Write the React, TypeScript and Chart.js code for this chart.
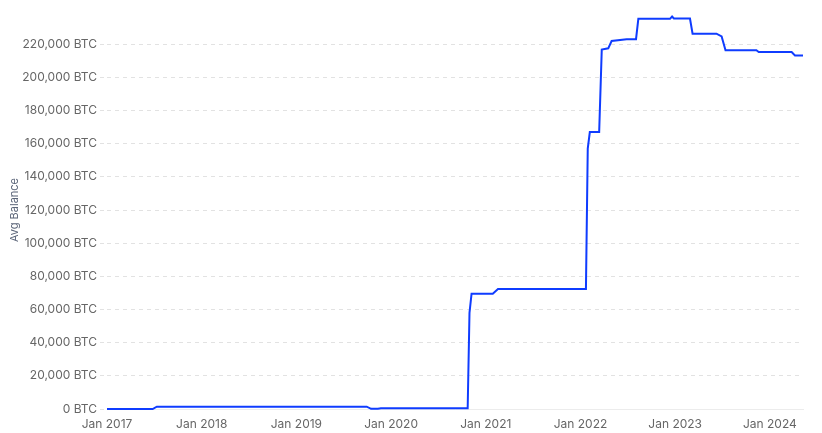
import React, { useEffect, useRef } from "react";
import { Chart, registerables } from "chart.js";

Chart.register(...registerables);

// Dates of the step changes (series "Avg Balance", BTC)
const dates: string[] = [
  "2017-01-01", "2017-06-26", "2017-07-12", "2019-09-29", "2019-10-16",
  "2019-11-11", "2019-11-23", "2020-10-23", "2020-10-30", "2020-11-07",
  "2021-01-28", "2021-02-17", "2022-01-22", "2022-01-29", "2022-02-06",
  "2022-03-14", "2022-03-24", "2022-04-18", "2022-05-01", "2022-06-28",
  "2022-08-03", "2022-08-12", "2022-12-12", "2022-12-20", "2022-12-27",
  "2023-02-27", "2023-03-09", "2023-06-09", "2023-06-29", "2023-07-14",
  "2023-11-10", "2023-11-19", "2024-03-25", "2024-04-07", "2024-05-08",
];
const avgBalance: number[] = [
  0, 0, 1400, 1400, 100,
  100, 400, 400, 58000, 69500,
  69500, 72300, 72300, 157000, 167000,
  167000, 216700, 217500, 221900, 223000,
  223000, 235300, 235300, 236700, 235500,
  235500, 226300, 226300, 224700, 216300,
  216300, 215300, 215300, 213200, 213200,
];
const yearTicks: number[] = [2017, 2018, 2019, 2020, 2021, 2022, 2023, 2024];
const xStart = "2017-01-01";
const xEnd = "2024-05-08";
const yMax = 240000;
const yStep = 20000;

function toYear(d: string): number {
  const [y, m, day] = d.split("-").map(Number);
  const start = Date.UTC(y, 0, 1);
  const end = Date.UTC(y + 1, 0, 1);
  const t = Date.UTC(y, m - 1, day);
  return y + (t - start) / (end - start);
}

export default function App() {
  const ref = useRef<HTMLCanvasElement | null>(null);

  useEffect(() => {
    document.body.style.margin = "0";
    const canvas = ref.current;
    if (!canvas) return;
    const points = dates.map((d, i) => ({ x: toYear(d), y: avgBalance[i] }));
    const fontFamily = "Inter, 'Open Sans', 'DejaVu Sans', sans-serif";
    const chart = new Chart(canvas, {
      type: "line",
      data: {
        datasets: [
          {
            label: "Avg Balance",
            data: points,
            borderColor: "#0f3cff",
            borderWidth: 2,
            pointRadius: 0,
            tension: 0,
            fill: false,
            clip: 4,
          },
        ],
      },
      options: {
        animation: false,
        responsive: false,
        maintainAspectRatio: false,
        layout: { padding: { top: 11, right: 19, bottom: 0, left: 0 } },
        plugins: {
          legend: { display: false },
          tooltip: { enabled: false },
        },
        scales: {
          x: {
            type: "linear",
            min: toYear(xStart),
            max: toYear(xEnd),
            grid: { display: false },
            border: { display: true, color: "#ececec", width: 1 },
            afterBuildTicks: (scale: any) => {
              scale.ticks = yearTicks.map((v) => ({ value: v }));
            },
            afterFit: (scale: any) => {
              scale.height = 24;
            },
            ticks: {
              includeBounds: false,
              autoSkip: false,
              maxRotation: 0,
              padding: 0,
              color: "#666666",
              font: { family: fontFamily, size: 12 },
              callback: (v: any) => "Jan " + Math.round(Number(v)),
            },
          },
          y: {
            type: "linear",
            min: 0,
            max: yMax,
            border: { display: false, dash: [4, 4] },
            grid: {
              color: "#e2e2e2",
              lineWidth: 1,
              tickLength: 7,
              drawTicks: true,
              tickColor: "#e2e2e2",
              tickBorderDash: [4, 4],
            },
            afterBuildTicks: (scale: any) => {
              const t: { value: number }[] = [];
              for (let v = 0; v < yMax; v += yStep) t.push({ value: v });
              scale.ticks = t;
            },
            afterFit: (scale: any) => {
              scale.width = 107;
            },
            ticks: {
              includeBounds: false,
              padding: 3,
              color: "#666666",
              font: { family: fontFamily, size: 12 },
              callback: (v: any) => Number(v).toLocaleString("en-US") + " BTC",
            },
            title: {
              display: true,
              text: "Avg Balance",
              color: "#5a6478",
              font: { family: fontFamily, size: 11 },
              padding: { top: 8, bottom: 0 },
            },
          },
        },
      } as any,
    });
    return () => chart.destroy();
  }, []);

  return (
    <div style={{ width: 822, height: 433 }}>
      <canvas ref={ref} width={822} height={433} style={{ display: "block" }} />
    </div>
  );
}
